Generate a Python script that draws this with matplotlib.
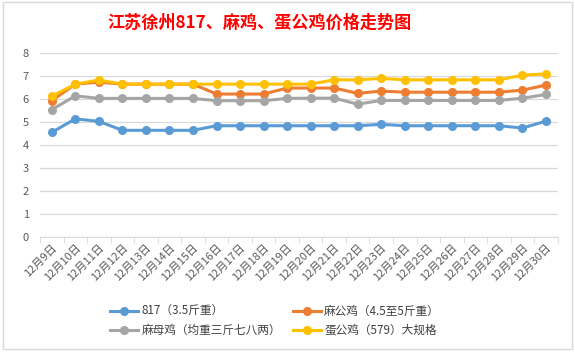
import matplotlib
matplotlib.use('Agg')
from matplotlib import pyplot as plt
import numpy as np

plt.rcParams['font.family'] = ['Noto Sans CJK SC', 'DejaVu Sans']

# 日期
dates = ['12月%d日' % d for d in range(9, 31)]

# 各品种价格
p817 = [4.55, 5.14, 5.03, 4.64, 4.64, 4.64, 4.64, 4.84, 4.84, 4.84, 4.84,
        4.84, 4.84, 4.84, 4.90, 4.84, 4.84, 4.84, 4.84, 4.84, 4.74, 5.04]
ma_gong = [5.93, 6.65, 6.74, 6.65, 6.65, 6.65, 6.65, 6.22, 6.22, 6.22, 6.48,
           6.48, 6.48, 6.25, 6.35, 6.30, 6.30, 6.30, 6.30, 6.30, 6.39, 6.61]
ma_mu = [5.54, 6.14, 6.03, 6.03, 6.03, 6.03, 6.03, 5.93, 5.93, 5.93, 6.03,
         6.04, 6.04, 5.78, 5.94, 5.94, 5.94, 5.94, 5.94, 5.94, 6.04, 6.20]
dan_gong = [6.12, 6.65, 6.83, 6.65, 6.65, 6.65, 6.65, 6.65, 6.65, 6.65, 6.65,
            6.65, 6.84, 6.84, 6.90, 6.84, 6.84, 6.84, 6.84, 6.84, 7.04, 7.10]

names = ['817（3.5斤重）', '麻公鸡（4.5至5斤重）', '麻母鸡（均重三斤七八两）', '蛋公鸡（579）大规格']
colors = ['#5B9BD5', '#ED7D31', '#A5A5A5', '#FFC000']

fig = plt.figure(figsize=(5.75, 3.52), dpi=100)
ax = fig.add_axes([0.0696, 0.327, 0.9004, 0.522])

x = np.arange(len(dates))
lines = []
for y, c, n in zip([p817, ma_gong, ma_mu, dan_gong], colors, names):
    l, = ax.plot(x, y, color=c, lw=2.2, marker='o', ms=5.5, label=n)
    lines.append(l)

ax.set_xlim(-0.5, len(dates) - 0.5)
ax.set_ylim(0, 8)
ax.set_yticks(range(0, 9))
ax.grid(axis='y', color='#D9D9D9', lw=0.9)
ax.set_axisbelow(True)
for s in ['top', 'right', 'left']:
    ax.spines[s].set_visible(False)
ax.spines['bottom'].set_color('#D9D9D9')
ax.tick_params(axis='y', length=0, labelsize=8, labelcolor='#595959', pad=8)

# x轴刻度在分类之间
ax.set_xticks(x)
ax.set_xticklabels(dates, rotation=45, ha='right', rotation_mode='anchor',
                   fontsize=8, color='#595959')
ax.tick_params(axis='x', length=0, pad=4)
ax.set_xticks(np.arange(-0.5, len(dates), 1), minor=True)
ax.tick_params(axis='x', which='minor', length=4, color='#D9D9D9', direction='out')

fig.text(260 / 575, 1 - 23 / 352, '江苏徐州817、麻鸡、蛋公鸡价格走势图', ha='center', va='center',
         color='red', fontsize=12.3, fontweight='bold')

order = [0, 2, 1, 3]
leg = ax.legend([lines[i] for i in order], [names[i] for i in order], ncol=2,
                loc='center', frameon=False, fontsize=8.4, handlelength=2.4,
                handletextpad=0.3, columnspacing=1.0, labelspacing=0.5,
                labelcolor='#404040')
leg.set_bbox_to_anchor((275 / 575, 1 - 321 / 352), transform=fig.transFigure)

# 图表外框
fig.patches.append(plt.Rectangle((0.005, 0.008), 0.99, 0.985, transform=fig.transFigure,
                                 fill=False, edgecolor='#D9D9D9', lw=1))

fig.savefig('out.png', dpi=100)
